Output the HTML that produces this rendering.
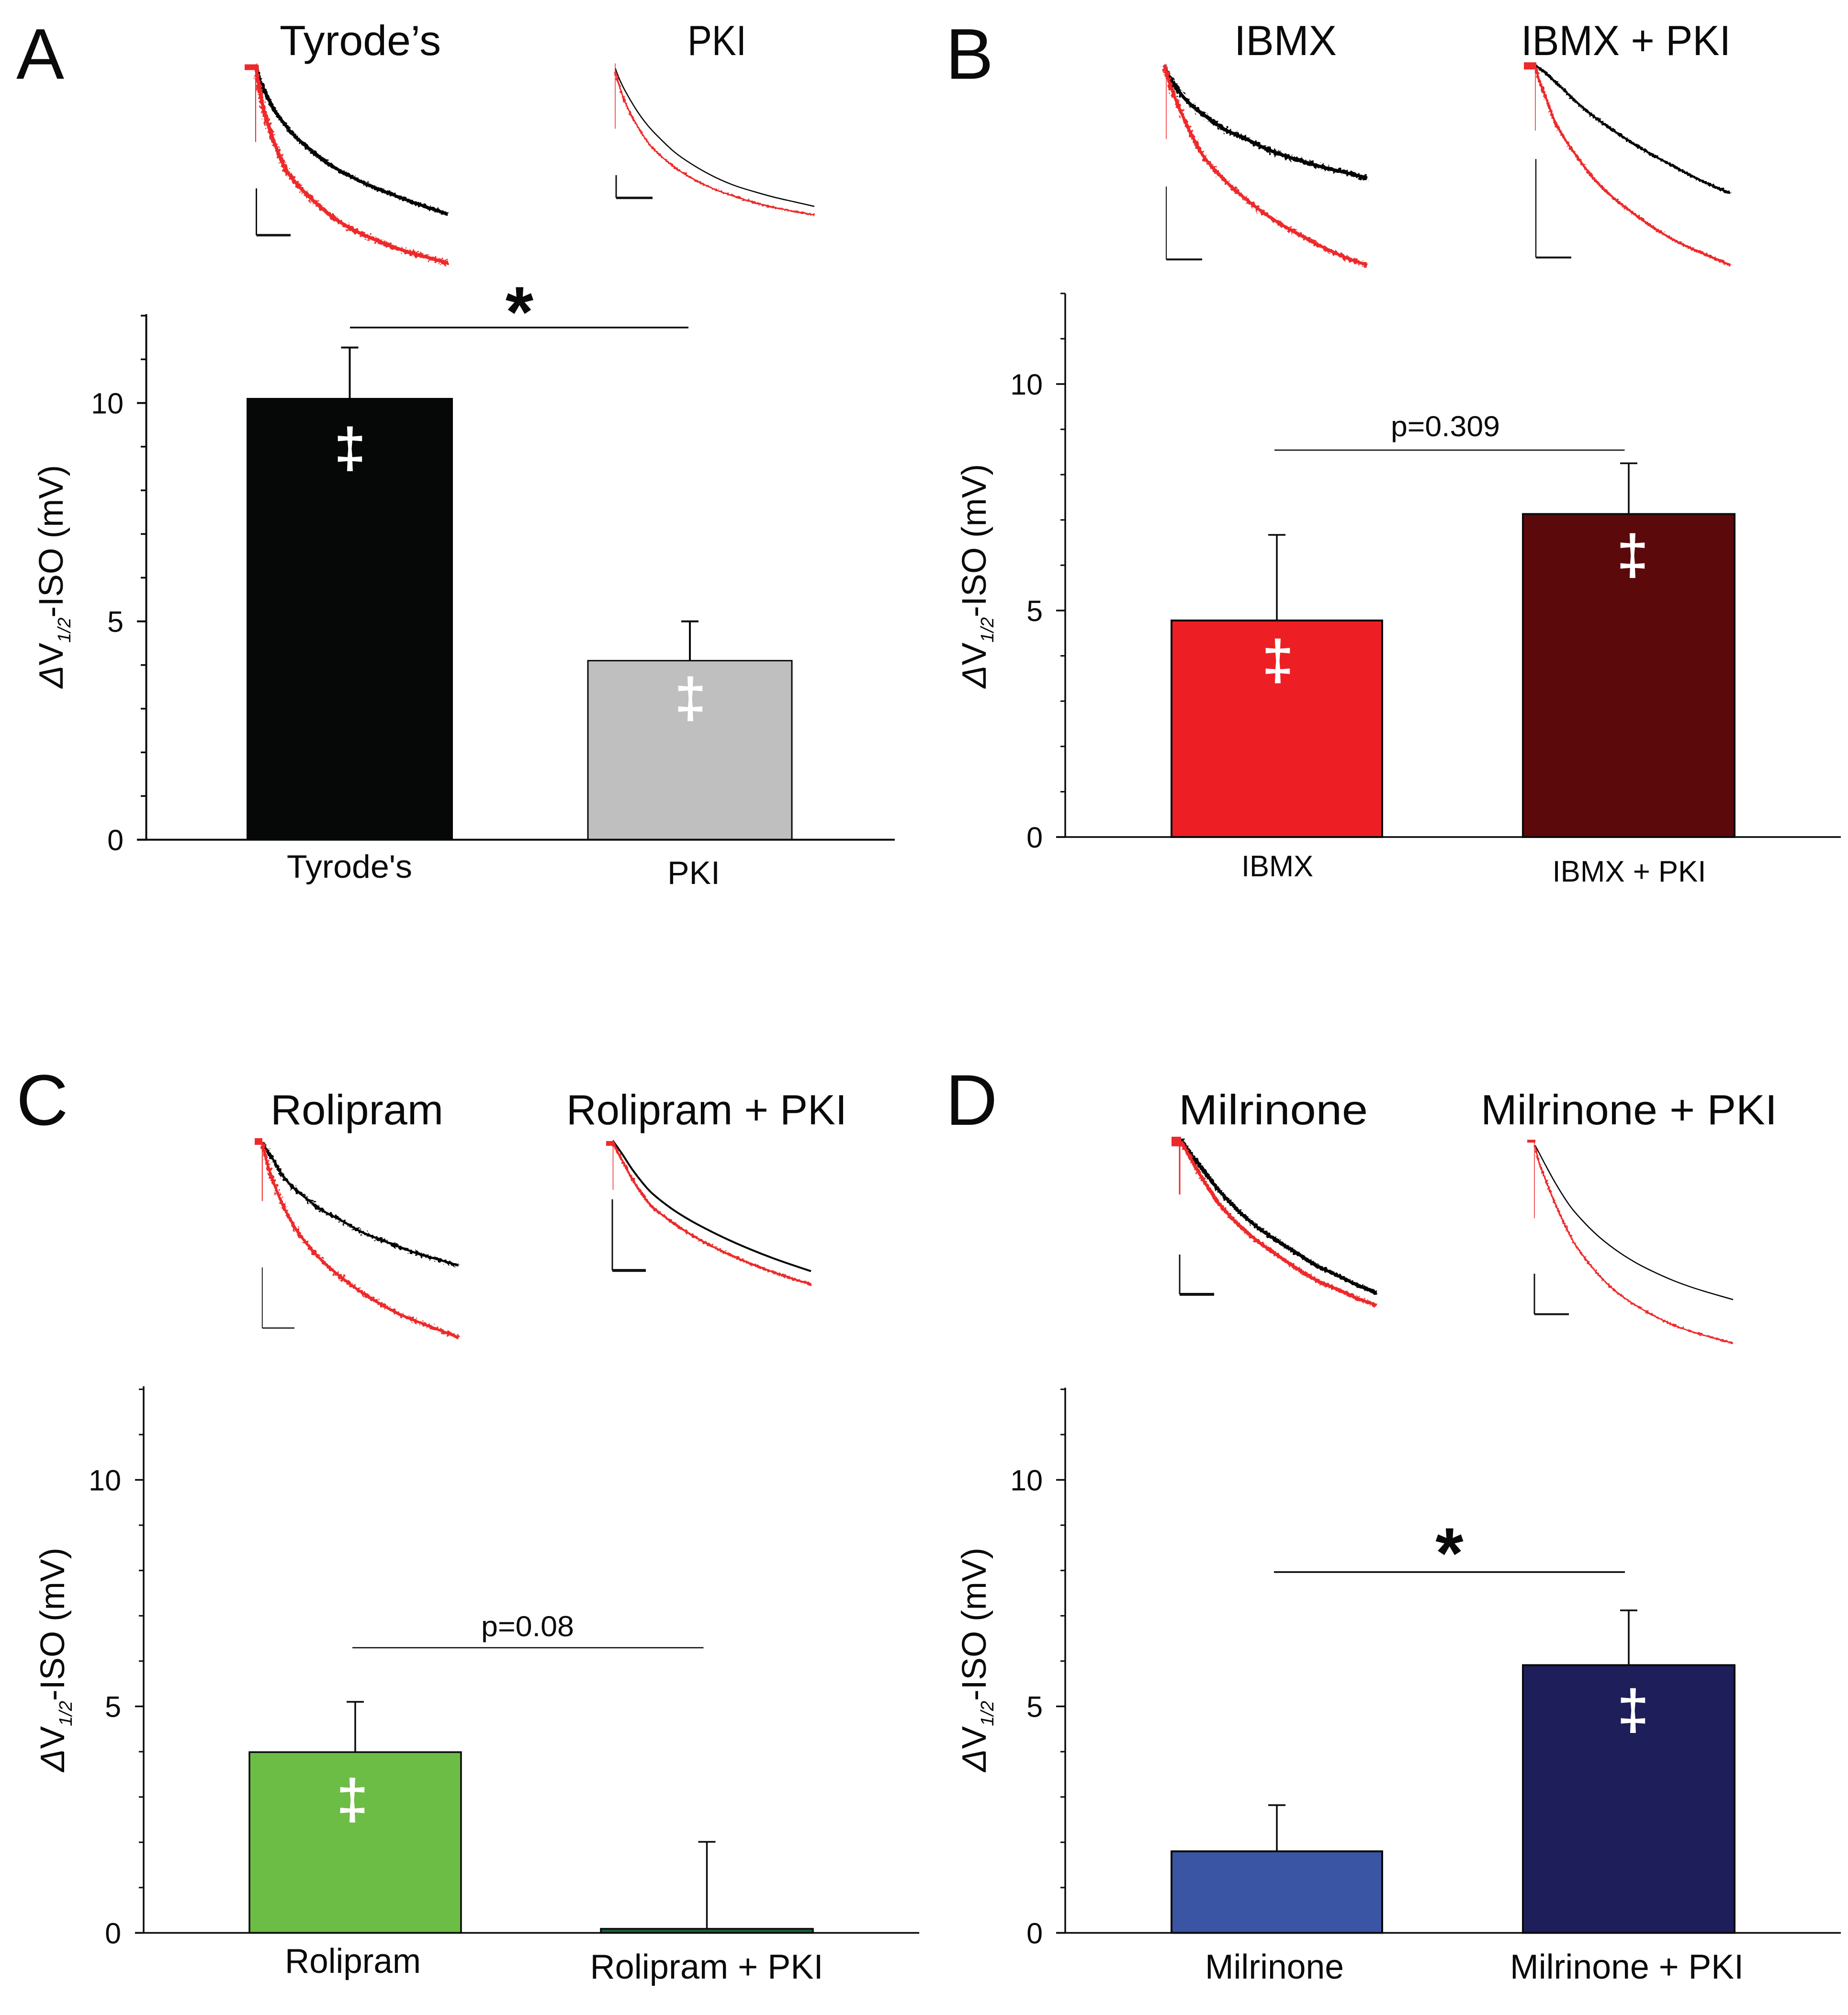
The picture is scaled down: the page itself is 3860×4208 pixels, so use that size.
<!DOCTYPE html>
<html lang="en">
<head>
<meta charset="utf-8">
<title>Delta V1/2 ISO response with and without PKI</title>
<style>
html,body{margin:0;padding:0;background:#fff;}
svg{display:block;}
text{font-family:"Liberation Sans",sans-serif;fill:#0a0a0a;}
</style>
</head>
<body>
<svg id="figure" xmlns="http://www.w3.org/2000/svg" width="3860" height="4208" viewBox="0 0 3860 4208">
<defs>
<filter id="fuzz" x="-5%" y="-5%" width="110%" height="110%">
<feTurbulence type="fractalNoise" baseFrequency="0.22" numOctaves="2" seed="4" result="n"/>
<feDisplacementMap in="SourceGraphic" in2="n" scale="9" xChannelSelector="R" yChannelSelector="G"/>
</filter>
<filter id="fuzz2" x="-5%" y="-5%" width="110%" height="110%">
<feTurbulence type="fractalNoise" baseFrequency="0.18" numOctaves="3" seed="9" result="n"/>
<feDisplacementMap in="SourceGraphic" in2="n" scale="16" xChannelSelector="R" yChannelSelector="G"/>
</filter>
</defs>
<rect x="0" y="0" width="3860" height="4208" fill="#fff"/>

<text x="34" y="164.5" font-size="150">A</text>
<text x="1975" y="164.5" font-size="150">B</text>
<text x="34" y="2349" font-size="150">C</text>
<text x="1975" y="2349" font-size="150">D</text>

<text x="584" y="115" font-size="88" textLength="337" lengthAdjust="spacingAndGlyphs">Tyrode’s</text>
<text x="1436" y="115" font-size="88" textLength="123" lengthAdjust="spacingAndGlyphs">PKI</text>
<text x="2578" y="115" font-size="88" textLength="214" lengthAdjust="spacingAndGlyphs">IBMX</text>
<text x="3177" y="115" font-size="88" textLength="438" lengthAdjust="spacingAndGlyphs">IBMX + PKI</text>
<text x="565" y="2348" font-size="88" textLength="361" lengthAdjust="spacingAndGlyphs">Rolipram</text>
<text x="1183" y="2348" font-size="88" textLength="586" lengthAdjust="spacingAndGlyphs">Rolipram + PKI</text>
<text x="2462" y="2348" font-size="88" textLength="395" lengthAdjust="spacingAndGlyphs">Milrinone</text>
<text x="3093" y="2348" font-size="88" textLength="619" lengthAdjust="spacingAndGlyphs">Milrinone + PKI</text>

<g id="charts"></g>
<g id="insets"></g>
</svg>

<script>
// ---- bar chart data ----
const yTickLabels = [0, 5, 10];
const yMinorTicks = [1, 2, 3, 4, 6, 7, 8, 9, 11, 12];
const yAxisMax = 12;

const categoriesA = ["Tyrode's", "PKI"];
const meansA = [10.1, 4.1];
const errorsA = [1.17, 0.9];

const categoriesB = ["IBMX", "IBMX + PKI"];
const meansB = [4.78, 7.13];
const errorsB = [1.89, 1.12];

const categoriesC = ["Rolipram", "Rolipram + PKI"];
const meansC = [3.99, 0.09];
const errorsC = [1.11, 1.92];

const categoriesD = ["Milrinone", "Milrinone + PKI"];
const meansD = [1.8, 5.91];
const errorsD = [1.02, 1.21];

// ---- current trace data: sweep time (%) and normalised current (a.u.) ----
const sweepTimes = [0, 2, 5, 10, 15, 20, 30, 40, 50, 60, 70, 80, 90, 100];

const tyrodeControl = [125.5, 118, 111, 101.5, 94.5, 88.5, 79.5, 72.2, 66.5, 61.7, 57.7, 53.8, 50.3, 47];
const tyrodeIso = [125.5, 113, 98.8, 84, 72, 64.5, 54, 45.5, 39, 34.3, 30.2, 26.7, 23.9, 21];
const pkiControl = [124, 118.5, 112, 103, 95.5, 89.5, 79.5, 72.3, 66.5, 62, 58.7, 55.8, 53.4, 51];
const pkiIso = [122, 115, 106, 95.5, 87, 80.5, 71.5, 65, 60, 56.2, 53, 50.4, 48.3, 46.5];
const ibmxControl = [125.5, 120, 115, 108, 103, 99, 91.5, 86.8, 81.5, 77.5, 74.2, 71.2, 68.7, 66];
const ibmxIso = [125.5, 118, 109, 96.5, 85.5, 76.5, 64.5, 55, 46.8, 40, 34, 28.5, 23.7, 20];
const ibmxPkiControl = [125, 124, 121.5, 116.8, 112, 107, 98.4, 91, 84.3, 78.2, 72.7, 67.2, 62.3, 58];
const ibmxPkiIso = [124, 117, 109, 95.5, 86.5, 79, 65.5, 55.5, 47.5, 40.2, 33.8, 28.8, 24.4, 20];
const roliControl = [113, 109.5, 105, 96, 90, 85.5, 77.5, 72, 66, 61.8, 57.8, 54, 51.1, 48];
const roliIso = [113, 104, 94, 81, 71, 63, 51, 42, 34.3, 27.8, 22.3, 18, 14, 10];
const roliPkiControl = [114, 111, 106.5, 98.5, 91.7, 86, 77.8, 71.3, 65.8, 60.8, 56.3, 52.2, 48.5, 45];
const roliPkiIso = [113, 109, 103, 93.3, 85.5, 79, 70.8, 64, 58.2, 53.2, 48.8, 44.9, 41.3, 38];
const milControl = [114.5, 111.5, 107, 100.5, 93.5, 87, 76.3, 67.5, 60.6, 54, 47.7, 42.8, 37.8, 33.5];
const milIso = [113.5, 110, 104.5, 95.5, 87.5, 80, 69, 60.3, 53, 46, 39.8, 35.4, 30.8, 27];
const milPkiControl = [111.5, 107.5, 101.5, 92, 83.5, 76.3, 65.3, 56.8, 50, 44.6, 40, 36.2, 33, 30];
const milPkiIso = [111, 102.5, 94, 81, 69.5, 59.5, 45.5, 35, 27.5, 21.5, 16.5, 12.8, 9.8, 7];

// ---- helpers ----
const SVGNS = 'http://www.w3.org/2000/svg';
function mk(tag, attrs, parent) {
  const n = document.createElementNS(SVGNS, tag);
  for (const k in attrs) n.setAttribute(k, attrs[k]);
  if (parent) parent.appendChild(n);
  return n;
}
function slug(s) { return s.toLowerCase().replace(/[^a-z0-9]+/g, '-').replace(/^-|-$/g, ''); }

// ---- bar chart panels ----
const INK = '#0a0a0a';
const panels = [
  { id:'a', categories:categoriesA, means:meansA, errors:errorsA,
    axisX:305.5, y0:1753.6, unit:91.2, axisTop:656, baseEnd:1869, majorX:286, minorX:294, tickRight:258,
    centers:[730.5,1441], half:[214,213], capHalf:18, axisW:4, barStroke:3,
    fills:['#060807','#bfbfbf'], strokes:['#060807','#0a0a0a'],
    labelX:[730,1449], labelY:[1833,1846], labelSize:[68,68], labelLen:[262,110],
    dagX:[731,1442], dagBase:[975,1497], dagFill:['#fff','#fff'],
    sig:{x1:731,x2:1438,y:684,w:3.5,star:1085,starBase:703},
    yLabel:{x:131,y:1437,len:466} },
  { id:'b', categories:categoriesB, means:meansB, errors:errorsB,
    axisX:2225, y0:1748, unit:94.6, axisTop:613, baseEnd:3845, majorX:2206, minorX:2215, tickRight:2178,
    centers:[2667,3402], half:[220,221], capHalf:18, axisW:3.5, barStroke:4,
    fills:['#ed1f24','#5c090c'], strokes:['#0a0a0a','#0a0a0a'],
    labelX:[2668,3403], labelY:[1830,1841], labelSize:[62,62], labelLen:[150,321],
    dagX:[2669,3410], dagBase:[1418,1198], dagFill:['#fff','#fff'],
    sig:{x1:2662,x2:3393.5,y:940,w:2.5,text:'p=0.309',textX:2905,textY:911,textLen:228},
    yLabel:{x:2059,y:1437,len:468} },
  { id:'c', categories:categoriesC, means:meansC, errors:errorsC,
    axisX:300, y0:4036.5, unit:94.6, axisTop:2895, baseEnd:1920, majorX:282, minorX:290, tickRight:253,
    centers:[742,1476.5], half:[221,221.5], capHalf:18, axisW:3.5, barStroke:3.5,
    fills:['#6cbd45','#1a5f38'], strokes:['#0a0a0a','#0a0a0a'],
    labelX:[737,1476], labelY:[4120,4132], labelSize:[72,72], labelLen:[284,487],
    dagX:[736,null], dagBase:[3797,null], dagFill:['#fff',null],
    sig:{x1:736,x2:1469.5,y:3441,w:2.5,text:'p=0.08',textX:1005,textY:3417,textLen:194},
    yLabel:{x:134,y:3700,len:468} },
  { id:'d', categories:categoriesD, means:meansD, errors:errorsD,
    axisX:2225, y0:4036.5, unit:94.6, axisTop:2898, baseEnd:3845, majorX:2206, minorX:2215, tickRight:2178,
    centers:[2667,3402], half:[220,221], capHalf:18, axisW:3.5, barStroke:4,
    fills:['#3a55a4','#1e1e5a'], strokes:['#0a0a0a','#0a0a0a'],
    labelX:[2662,3398], labelY:[4132,4132], labelSize:[72,72], labelLen:[290,488],
    dagX:[null,3411], dagBase:[null,3610], dagFill:[null,'#fff'],
    sig:{x1:2661,x2:3394,y:3283,w:3.5,star:3027.5,starBase:3295},
    yLabel:{x:2059,y:3700,len:468} }
];

const chartsRoot = document.getElementById('charts');
panels.forEach(function (p) {
  const yScale = function (v) { return p.y0 - v * p.unit; };
  const g = mk('g', {}, chartsRoot);
  
  

  // bars first so the axis sits on top
  p.categories.forEach(function (cat, i) {
    const c = p.centers[i], h = p.half[i];
    const err = mk('line', { x1:c, x2:c, y1:yScale(p.means[i]), y2:yScale(p.means[i] + p.errors[i]), stroke:INK, 'stroke-width':p.axisW }, g);
    
    
    const cap = mk('line', { x1:c - p.capHalf, x2:c + p.capHalf, y1:yScale(p.means[i] + p.errors[i]), y2:yScale(p.means[i] + p.errors[i]), stroke:INK, 'stroke-width':p.axisW }, g);
    
    
    const bar = mk('rect', { x:c - h, y:yScale(p.means[i]), width:2 * h, height:p.means[i] * p.unit, fill:p.fills[i], stroke:p.strokes[i], 'stroke-width':p.barStroke }, g);
    
    

    if (p.dagX[i] !== null) {
      const dag = mk('text', { x:p.dagX[i], y:p.dagBase[i], 'font-size':115, 'text-anchor':'middle', style:'fill:' + p.dagFill[i] + ';stroke:' + p.dagFill[i] + ';stroke-width:2' }, g);
      dag.textContent = '\u2021';
      
      
    }
    const lab = mk('text', { x:p.labelX[i], y:p.labelY[i], 'font-size':p.labelSize[i], 'text-anchor':'middle', textLength:p.labelLen[i], lengthAdjust:'spacingAndGlyphs' }, g);
    lab.textContent = cat;
    
    
  });

  const yAxis = mk('line', { x1:p.axisX, x2:p.axisX, y1:p.axisTop, y2:p.y0, stroke:INK, 'stroke-width':p.axisW }, g);
  
  
  const xAxis = mk('line', { x1:p.majorX, x2:p.baseEnd, y1:p.y0, y2:p.y0, stroke:INK, 'stroke-width':p.axisW }, g);
  
  

  yTickLabels.forEach(function (v) {
    const t = mk('line', { x1:p.majorX, x2:p.axisX, y1:yScale(v), y2:yScale(v), stroke:INK, 'stroke-width':p.axisW }, g);
    
    
    const l = mk('text', { x:p.tickRight, y:yScale(v) + 22, 'font-size':61, 'text-anchor':'end' }, g);
    l.textContent = String(v);
    
    
  });
  yMinorTicks.forEach(function (v) {
    const t = mk('line', { x1:p.minorX, x2:p.axisX, y1:yScale(v), y2:yScale(v), stroke:INK, 'stroke-width':p.axisW - 0.5 }, g);
    
    
  });

  // y axis title
  const yt = mk('text', { transform:'translate(' + p.yLabel.x + ',' + p.yLabel.y + ') rotate(-90)', x:0, y:0, 'font-size':71, textLength:p.yLabel.len, lengthAdjust:'spacingAndGlyphs' }, g);
  
  
  const s1 = mk('tspan', { 'font-style':'italic' }, yt); s1.textContent = '\u0394';
  const s2 = mk('tspan', {}, yt); s2.textContent = 'V';
  const s3 = mk('tspan', { 'font-size':38, 'font-style':'italic', dy:16 }, yt); s3.textContent = '1/2';
  const s4 = mk('tspan', { dy:-16 }, yt); s4.textContent = '-ISO (mV)';

  // significance bracket
  const sg = mk('line', { x1:p.sig.x1, x2:p.sig.x2, y1:p.sig.y, y2:p.sig.y, stroke:INK, 'stroke-width':p.sig.w }, g);
  
  
  if (p.sig.text) {
    const pt = mk('text', { x:p.sig.textX, y:p.sig.textY, 'font-size':60, textLength:p.sig.textLen, lengthAdjust:'spacingAndGlyphs' }, g);
    pt.textContent = p.sig.text;
    
    
  } else {
    const st = mk('text', { x:p.sig.star, y:p.sig.starBase, 'font-size':150, 'font-weight':'bold', 'text-anchor':'middle' }, g);
    st.textContent = '*';
    
    
  }
});

// ---- current trace insets ----
const CUR_PX = 3.954; // px per current unit
const insets = [
  { id:'tyrodes', top:0, left:534, right:935.5, black:tyrodeControl, red:tyrodeIso, bw:8, rw:9, fb:'url(#fuzz)', fr:'url(#fuzz2)',
    spike:[534,125.5,85,'#ed2a2b',2], pre:[511,536,124.5,124.5,12], bar:[535.5,60.5,35.8,607,3,5] },
  { id:'pki', top:0, left:1285, right:1701, black:pkiControl, red:pkiIso, bw:2.5, rw:3.5, fb:'none', fr:'url(#fuzz)',
    spike:[1285,126.5,92,'#ed2a2b',1.5], pre:null, bar:[1287,67.5,55.5,1363,3,5] },
  { id:'ibmx', top:0, left:2432, right:2855.7, black:ibmxControl, red:ibmxIso, bw:9, rw:8, fb:'url(#fuzz2)', fr:'url(#fuzz2)',
    spike:[2436,126,86.5,'#ed2a2b',1.5], pre:null, bar:[2436,61.5,23,2511,2,4] },
  { id:'ibmx-pki', top:0, left:3207.7, right:3614, black:ibmxPkiControl, red:ibmxPkiIso, bw:5.5, rw:5.5, fb:'url(#fuzz)', fr:'url(#fuzz)',
    spike:[3207,122,91,'#ed2a2b',1.5], pre:[3183,3209,125.2,125.2,15], bar:[3208,76,24,3282,2.5,4] },
  { id:'rolipram', top:2200, left:547.8, right:957.7, black:roliControl, red:roliIso, bw:6, rw:7, fb:'url(#fuzz2)', fr:'url(#fuzz2)',
    spike:[547.8,113,82,'#ed2a2b',2], pre:[532,548,113.5,113.5,14], bar:[547.8,47,15,615,1.8,2.5] },
  { id:'rolipram-pki', top:2200, left:1280, right:1694, black:roliPkiControl, red:roliPkiIso, bw:4, rw:5, fb:'none', fr:'url(#fuzz)',
    spike:[1280.5,114,88,'#ed2a2b',1.5], pre:[1266,1283,112.5,112.5,10], bar:[1279,83,45.4,1349,3,6] },
  { id:'milrinone', top:2200, left:2466.7, right:2875, black:milControl, red:milIso, bw:8, rw:8, fb:'url(#fuzz)', fr:'url(#fuzz)',
    spike:[2464,113,85.5,'#ed2a2b',3], pre:[2447,2467,113.5,113.5,20], bar:[2464,53.8,32.8,2536,3,6] },
  { id:'milrinone-pki', top:2200, left:3206.5, right:3620, black:milPkiControl, red:milPkiIso, bw:2.5, rw:3.5, fb:'none', fr:'url(#fuzz)',
    spike:[3205,113,73,'#ed2a2b',1.5], pre:[3190,3207,113.7,113.7,6], bar:[3205,43.7,22.3,3277,3,4] }
];

function curvePath(times, values, xs, ys) {
  const pts = times.map(function (t, i) { return [xs(t), ys(values[i])]; });
  let d = 'M' + pts[0][0].toFixed(1) + ' ' + pts[0][1].toFixed(1);
  for (let i = 0; i < pts.length - 1; i++) {
    const p0 = pts[Math.max(i - 1, 0)], p1 = pts[i], p2 = pts[i + 1], p3 = pts[Math.min(i + 2, pts.length - 1)];
    const c1 = [p1[0] + (p2[0] - p0[0]) / 6, p1[1] + (p2[1] - p0[1]) / 6];
    const c2 = [p2[0] - (p3[0] - p1[0]) / 6, p2[1] - (p3[1] - p1[1]) / 6];
    d += 'C' + c1[0].toFixed(1) + ' ' + c1[1].toFixed(1) + ' ' + c2[0].toFixed(1) + ' ' + c2[1].toFixed(1) + ' ' + p2[0].toFixed(1) + ' ' + p2[1].toFixed(1);
  }
  return d;
}

const insetsRoot = document.getElementById('insets');
insets.forEach(function (s) {
  const xs = function (t) { return s.left + t / 100 * (s.right - s.left); };
  const ys = function (v) { return s.top + (160 - v) * CUR_PX; };
  const g = mk('g', {}, insetsRoot);
  
  

  const blackD = curvePath(sweepTimes, s.black, xs, ys);
  const redD = curvePath(sweepTimes, s.red, xs, ys);

  const black = mk('path', { d:blackD, fill:'none', stroke:'#050505', 'stroke-width':s.bw, filter:s.fb }, g);
  
  
  if (s.fb !== 'none') {
    const blackCore = mk('path', { d:blackD, fill:'none', stroke:'#050505', 'stroke-width':s.bw * 0.75 }, g);
    
    
  }
  const red = mk('path', { d:redD, fill:'none', stroke:'#ed2a2b', 'stroke-width':s.rw, filter:s.fr }, g);
  
  
  if (s.fr !== 'none') {
    const redCore = mk('path', { d:redD, fill:'none', stroke:'#ed2a2b', 'stroke-width':s.rw * 0.75 }, g);
    
    
  }

  const sp = mk('line', { x1:s.spike[0], x2:s.spike[0], y1:ys(s.spike[1]), y2:ys(s.spike[2]), stroke:s.spike[3], 'stroke-width':s.spike[4] }, g);
  
  
  if (s.pre) {
    const pr = mk('line', { x1:s.pre[0], x2:s.pre[1], y1:ys(s.pre[2]), y2:ys(s.pre[3]), stroke:'#ed2a2b', 'stroke-width':s.pre[4] }, g);
    
    
  }
  const sv = mk('line', { x1:s.bar[0], x2:s.bar[0], y1:ys(s.bar[1]), y2:ys(s.bar[2]), stroke:'#111', 'stroke-width':s.bar[4] }, g);
  
  
  const sh = mk('line', { x1:s.bar[0], x2:s.bar[3], y1:ys(s.bar[2]), y2:ys(s.bar[2]), stroke:'#111', 'stroke-width':s.bar[5] }, g);
  
  
});
</script>
</body>
</html>
